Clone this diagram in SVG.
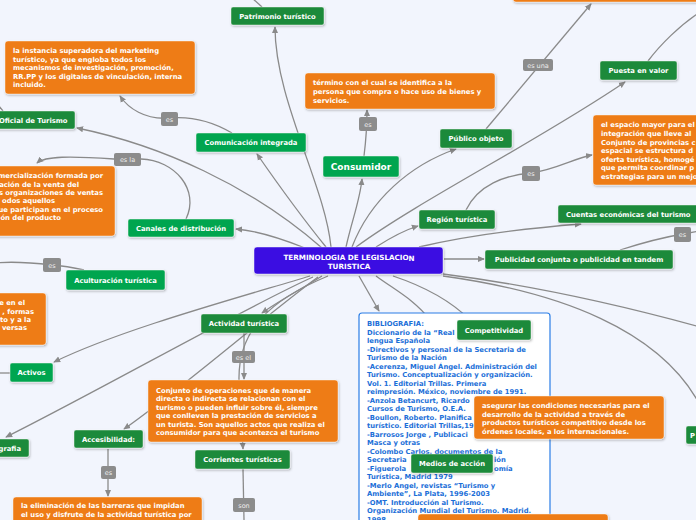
<svg xmlns="http://www.w3.org/2000/svg" width="696" height="520" viewBox="0 0 696 520">
<defs>
<marker id="ar" viewBox="0 0 8 8" refX="7" refY="4" markerWidth="7" markerHeight="7" markerUnits="userSpaceOnUse" orient="auto"><path d="M0,0.5 L8,4 L0,7.5 z" fill="#8a8a8a"/></marker>
<filter id="sh" x="-10%" y="-20%" width="120%" height="150%"><feDropShadow dx="0.8" dy="1.2" stdDeviation="0.8" flood-color="#000" flood-opacity="0.28"/></filter>
<style>
.n rect{filter:url(#sh);stroke:#ffffff;stroke-opacity:0.55;stroke-width:0.8}
.g1{fill:#1d8a3a}.g2{fill:#04a550}.or{fill:#ee7b12}.pu{fill:#3a0fe2}
.lb rect{fill:#8c8c8c}
.t{font-family:"DejaVu Sans",Verdana,sans-serif;font-weight:bold;font-size:6.8px;fill:#ffffff}
.c{text-anchor:middle}
.e{text-anchor:end}
.lt{font-family:"DejaVu Sans",sans-serif;font-size:6.5px;fill:#eeeeee;text-anchor:middle}
.bt{font-family:"DejaVu Sans",Verdana,sans-serif;font-weight:bold;font-size:6.8px;fill:#1c6fd8}
#connectors path{fill:none;stroke:#8a8a8a;stroke-width:1.3}
.a{marker-end:url(#ar)}
</style>
</defs>
<rect x="0" y="0" width="696" height="520" fill="#f2f5fd"/>

<g id="connectors">
<path class="a" d="M331 247 C325 185 275 100 275 27"/>
<path d="M262 7 L251 -3"/>
<path class="a" d="M326 247 C300 215 275 180 257 154"/>
<path class="a" d="M232 133 C210 120 190 116 169 118 C145 120 128 108 120 96"/>
<path class="a" d="M322 248 C250 185 160 145 77 128"/>
<path class="a" d="M305 248 C285 240 260 231 236 229"/>
<path class="a" d="M186 219 C200 190 175 160 141 159 L114 159 C70 156 45 156 37 163"/>
<path class="a" d="M346 247 C352 220 360 200 362 179"/>
<path class="a" d="M364 156 C366 140 367 125 367 110"/>
<path class="a" d="M352 247 C370 200 410 165 456 149"/>
<path class="a" d="M486 129 L591 4"/>
<path class="a" d="M356 247 C420 200 540 140 625 82"/>
<path d="M648 61 C660 45 680 25 700 12"/>
<path class="a" d="M376 247 C390 238 405 230 418 226"/>
<path class="a" d="M466 210 C478 185 505 175 531 173 C555 170 575 158 592 155"/>
<path class="a" d="M419 247 C470 235 530 228 581 224"/>
<path d="M620 250 C645 242 665 237 683 234 L700 231"/>
<path class="a" d="M444 259 L484 259"/>
<path d="M443 274 C530 285 620 305 700 327"/>
<path d="M443 276 C560 292 660 330 700 405"/>
<path class="a" d="M359 276 L379 311"/>
<path d="M376 276 C395 290 415 300 430 320"/>
<path d="M393 276 C420 285 450 300 470 320"/>
<path class="a" d="M310 276 C230 300 120 330 54 362"/>
<path class="a" d="M313 277 C250 305 100 390 6 437"/>
<path class="a" d="M318 277 C260 320 180 390 124 429"/>
<path class="a" d="M322 276 C300 290 280 300 262 313"/>
<path class="a" d="M328 276 C270 300 238 330 239 380 L243 449"/>
<path class="a" d="M244 333 L244 379"/>
<path d="M243 469 L244 520"/>
<path class="a" d="M108 449 L108 496"/>
<path d="M10 373 L-5 373"/>
<path d="M3 111 L-5 101"/>
<path d="M84 270 C75 268 65 266 52 265 C35 263 15 261 -5 263"/>
</g>

<g id="labels">
<g class="lb"><rect x="161" y="112" width="17" height="14" rx="2"/><text class="lt" x="169.5" y="121.5">es</text></g>
<g class="lb"><rect x="114" y="153" width="27" height="13" rx="2"/><text class="lt" x="127.5" y="162">es la</text></g>
<g class="lb"><rect x="359" y="117" width="18" height="14" rx="2"/><text class="lt" x="368" y="126.5">es</text></g>
<g class="lb"><rect x="523" y="59" width="30" height="12" rx="2"/><text class="lt" x="538" y="67.5">es una</text></g>
<g class="lb"><rect x="522" y="166" width="18" height="15" rx="2"/><text class="lt" x="531" y="176">es</text></g>
<g class="lb"><rect x="674" y="227" width="17" height="15" rx="2"/><text class="lt" x="682.5" y="237">es</text></g>
<g class="lb"><rect x="43" y="258" width="18" height="14" rx="2"/><text class="lt" x="52" y="267.5">es</text></g>
<g class="lb"><rect x="232" y="351" width="23" height="12" rx="2"/><text class="lt" x="243.5" y="359.5">es el</text></g>
<g class="lb"><rect x="101" y="466" width="15" height="13" rx="2"/><text class="lt" x="108.5" y="475">es</text></g>
<g class="lb"><rect x="233" y="498" width="22" height="14" rx="2"/><text class="lt" x="244" y="507.5">son</text></g>
</g>

<g id="center" class="n"><rect class="pu" x="254" y="247" width="189" height="27" rx="3"/>
<text class="t c" x="349" y="259.5" style="font-size:7.2px">TERMINOLOGIA DE LEGISLACIO<tspan dy="1.5">N</tspan></text>
<text class="t c" x="349" y="268.5" style="font-size:7.2px">TURISTICA</text></g>

<g id="patrimonio" class="n"><rect class="g1" x="231" y="7" width="93" height="18" rx="2"/><text class="t c" x="277.5" y="18.5">Patrimonio turístico</text></g>
<g id="oficial" class="n"><rect class="g1" x="-20" y="111" width="95" height="18" rx="2"/><text class="t" x="-1" y="122.5">Oficial de Turismo</text></g>
<g id="comunicacion" class="n"><rect class="g2" x="196" y="133" width="110" height="19" rx="2"/><text class="t c" x="251" y="145">Comunicación integrada</text></g>
<g id="canales" class="n"><rect class="g2" x="128" y="219" width="106" height="18" rx="2"/><text class="t c" x="181" y="230.5">Canales de distribución</text></g>
<g id="consumidor" class="n"><rect class="g2" x="323" y="156" width="76" height="21" rx="2"/><text class="t c" x="361" y="169.8" style="font-size:9px">Consumidor</text></g>
<g id="publico" class="n"><rect class="g1" x="440" y="129" width="72" height="19" rx="2"/><text class="t c" x="476" y="141">Público objeto</text></g>
<g id="puesta" class="n"><rect class="g1" x="600" y="61" width="77" height="19" rx="2"/><text class="t c" x="638.5" y="73">Puesta en valor</text></g>
<g id="region" class="n"><rect class="g1" x="419" y="210" width="76" height="19" rx="2"/><text class="t c" x="457" y="222">Región turística</text></g>
<g id="cuentas" class="n"><rect class="g1" x="558" y="205" width="145" height="18" rx="2"/><text class="t" x="566" y="216.5">Cuentas económicas del turismo</text></g>
<g id="publicidad" class="n"><rect class="g1" x="485" y="250" width="188" height="19" rx="2"/><text class="t c" x="579" y="262">Publicidad conjunta o publicidad en tandem</text></g>
<g id="aculturacion" class="n"><rect class="g2" x="66" y="270" width="99" height="20" rx="2"/><text class="t c" x="115.5" y="282.5">Aculturación turística</text></g>
<g id="activos" class="n"><rect class="g2" x="10" y="363" width="43" height="19" rx="2"/><text class="t c" x="31.5" y="375">Activos</text></g>
<g id="actividad" class="n"><rect class="g1" x="201" y="314" width="86" height="19" rx="2"/><text class="t c" x="244" y="326">Actividad turística</text></g>
<g id="accesibilidad" class="n"><rect class="g1" x="74" y="430" width="69" height="18" rx="2"/><text class="t c" x="108.5" y="441.5">Accesibilidad:</text></g>
<g id="corrientes" class="n"><rect class="g1" x="195" y="450" width="95" height="19" rx="2"/><text class="t c" x="242.5" y="462">Corrientes turísticas</text></g>
<g id="grafia" class="n"><rect class="g1" x="-40" y="439" width="69" height="18" rx="2"/><text class="t e" x="21" y="450.5">grafia</text></g>
<g id="p-right" class="n"><rect class="g1" x="686" y="426" width="40" height="18" rx="2"/><text class="t" x="690" y="437.5">P</text></g>

<g id="def-instancia" class="n"><rect class="or" x="5" y="41" width="190" height="53" rx="3"/>
<text class="t" x="13" y="53">la instancia superadora del marketing</text>
<text class="t" x="13" y="61.5">turístico, ya que engloba todos los</text>
<text class="t" x="13" y="70">mecanismos de investigación, promoción,</text>
<text class="t" x="13" y="78.5">RR.PP y los digitales de vinculación, interna</text>
<text class="t" x="13" y="87">incluido.</text></g>

<g id="def-consumidor" class="n"><rect class="or" x="305" y="73" width="190" height="36" rx="3"/>
<text class="t" x="313" y="85">término con el cual se identifica a la</text>
<text class="t" x="313" y="94">persona que compra o hace uso de bienes y</text>
<text class="t" x="313" y="102.5">servicios.</text></g>

<g id="def-top" class="n"><rect class="or" x="513" y="-40" width="200" height="42" rx="3"/></g>

<g id="def-canales" class="n"><rect class="or" x="-40" y="166" width="155" height="70" rx="3"/>
<text class="t e" x="103" y="178">mercialización formada por</text>
<text class="t e" x="79" y="186.5">ación de la venta del</text>
<text class="t e" x="103" y="195">s organizaciones de ventas</text>
<text class="t e" x="55" y="203">odos aquellos</text>
<text class="t e" x="103" y="212">ue participan en el proceso</text>
<text class="t e" x="61" y="220">ón del producto</text></g>

<g id="def-region" class="n"><rect class="or" x="593" y="115" width="120" height="70" rx="3"/>
<text class="t" x="601" y="127">el espacio mayor para el</text>
<text class="t" x="601" y="136">integración que lleve al</text>
<text class="t" x="601" y="144.5">Conjunto de provincias c</text>
<text class="t" x="601" y="153">espacial se estructura d</text>
<text class="t" x="601" y="161.5">oferta turística, homogé</text>
<text class="t" x="601" y="170">que permita coordinar p</text>
<text class="t" x="601" y="178.5">estrategias para un mejo</text></g>

<g id="def-aculturacion" class="n"><rect class="or" x="-40" y="293" width="86" height="52" rx="3"/>
<text class="t e" x="25" y="305">e en el</text>
<text class="t e" x="34" y="313.5">, formas</text>
<text class="t e" x="31" y="322">to y a la</text>
<text class="t e" x="27" y="330">versas</text></g>

<g id="def-actividad" class="n"><rect class="or" x="148" y="380" width="190" height="62" rx="3"/>
<text class="t" x="156" y="392.5">Conjunto de operaciones que de manera</text>
<text class="t" x="156" y="401">directa o indirecta se relacionan con el</text>
<text class="t" x="156" y="409.5">turismo o pueden influir sobre él, siempre</text>
<text class="t" x="156" y="418">que conlleven la prestación de servicios a</text>
<text class="t" x="156" y="426.5">un turista. Son aquellos actos que realiza el</text>
<text class="t" x="156" y="435">consumidor para que acontezca el turismo</text></g>

<g id="def-accesibilidad" class="n"><rect class="or" x="13" y="497" width="189" height="40" rx="3"/>
<text class="t" x="21" y="507.5">la eliminación de las barreras que impidan</text>
<text class="t" x="21" y="516.5">el uso y disfrute de la actividad turística por</text></g>

<g id="bibliografia"><rect x="359" y="313" width="191" height="225" rx="3" fill="#ffffff" stroke="#2a7de6" stroke-width="1.2"/>
<text class="bt" x="367" y="326">BIBLIOGRAFIA:</text>
<text class="bt" x="367" y="334.5">Diccionario de la “Real</text>
<text class="bt" x="367" y="343">lengua Española</text>
<text class="bt" x="367" y="351.5">-Directivos y personal de la Secretaria de</text>
<text class="bt" x="367" y="360">Turismo de la Nación</text>
<text class="bt" x="367" y="368.5">-Acerenza, Miguel Ángel. Administración del</text>
<text class="bt" x="367" y="377">Turismo. Conceptualización y organización.</text>
<text class="bt" x="367" y="385.5">Vol. 1. Editorial Trillas. Primera</text>
<text class="bt" x="367" y="394">reimpresión. México, noviembre de 1991.</text>
<text class="bt" x="367" y="402.5">-Anzola Betancurt, Ricardo</text>
<text class="bt" x="367" y="411">Cursos de Turismo, O.E.A.</text>
<text class="bt" x="367" y="419.5">-Boullon, Roberto. Planifica</text>
<text class="bt" x="367" y="428">turístico. Editorial Trillas,19</text>
<text class="bt" x="367" y="436.5">-Barrosos Jorge , Publicaci</text>
<text class="bt" x="367" y="445">Masca y otras</text>
<text class="bt" x="367" y="453.5">-Colombo Carlos. documentos de la</text>
<text class="bt" x="367" y="462">Secretaria</text><text class="bt" x="494" y="462">ión</text>
<text class="bt" x="367" y="470.5">-Figuerola</text><text class="bt" x="494" y="470.5">omía</text>
<text class="bt" x="367" y="479">Turística, Madrid 1979</text>
<text class="bt" x="367" y="487.5">-Merlo Angel, revistas “Turismo y</text>
<text class="bt" x="367" y="496">Ambiente”, La Plata, 1996-2003</text>
<text class="bt" x="367" y="504.5">-OMT. Introducción al Turismo.</text>
<text class="bt" x="367" y="513">Organización Mundial del Turismo. Madrid.</text>
<text class="bt" x="367" y="521.5">1998.</text></g>

<g id="competitividad" class="n"><rect class="g1" x="457" y="320" width="74" height="20" rx="2"/><text class="t c" x="494" y="332.5">Competitividad</text></g>
<g id="def-competitividad" class="n"><rect class="or" x="474" y="396" width="190" height="43" rx="3"/>
<text class="t" x="482" y="408">asegurar las condiciones necesarias para el</text>
<text class="t" x="482" y="416.5">desarrollo de la actividad a través de</text>
<text class="t" x="482" y="425">productos turísticos competitivo desde los</text>
<text class="t" x="482" y="433.5">órdenes locales, a los internacionales.</text></g>
<g id="medios" class="n"><rect class="g1" x="411" y="454" width="82" height="19" rx="2"/><text class="t c" x="452" y="466">Medios de acción</text></g>
<g id="def-bottom" class="n"><rect class="or" x="418" y="514" width="190" height="30" rx="3"/></g>
</svg>
